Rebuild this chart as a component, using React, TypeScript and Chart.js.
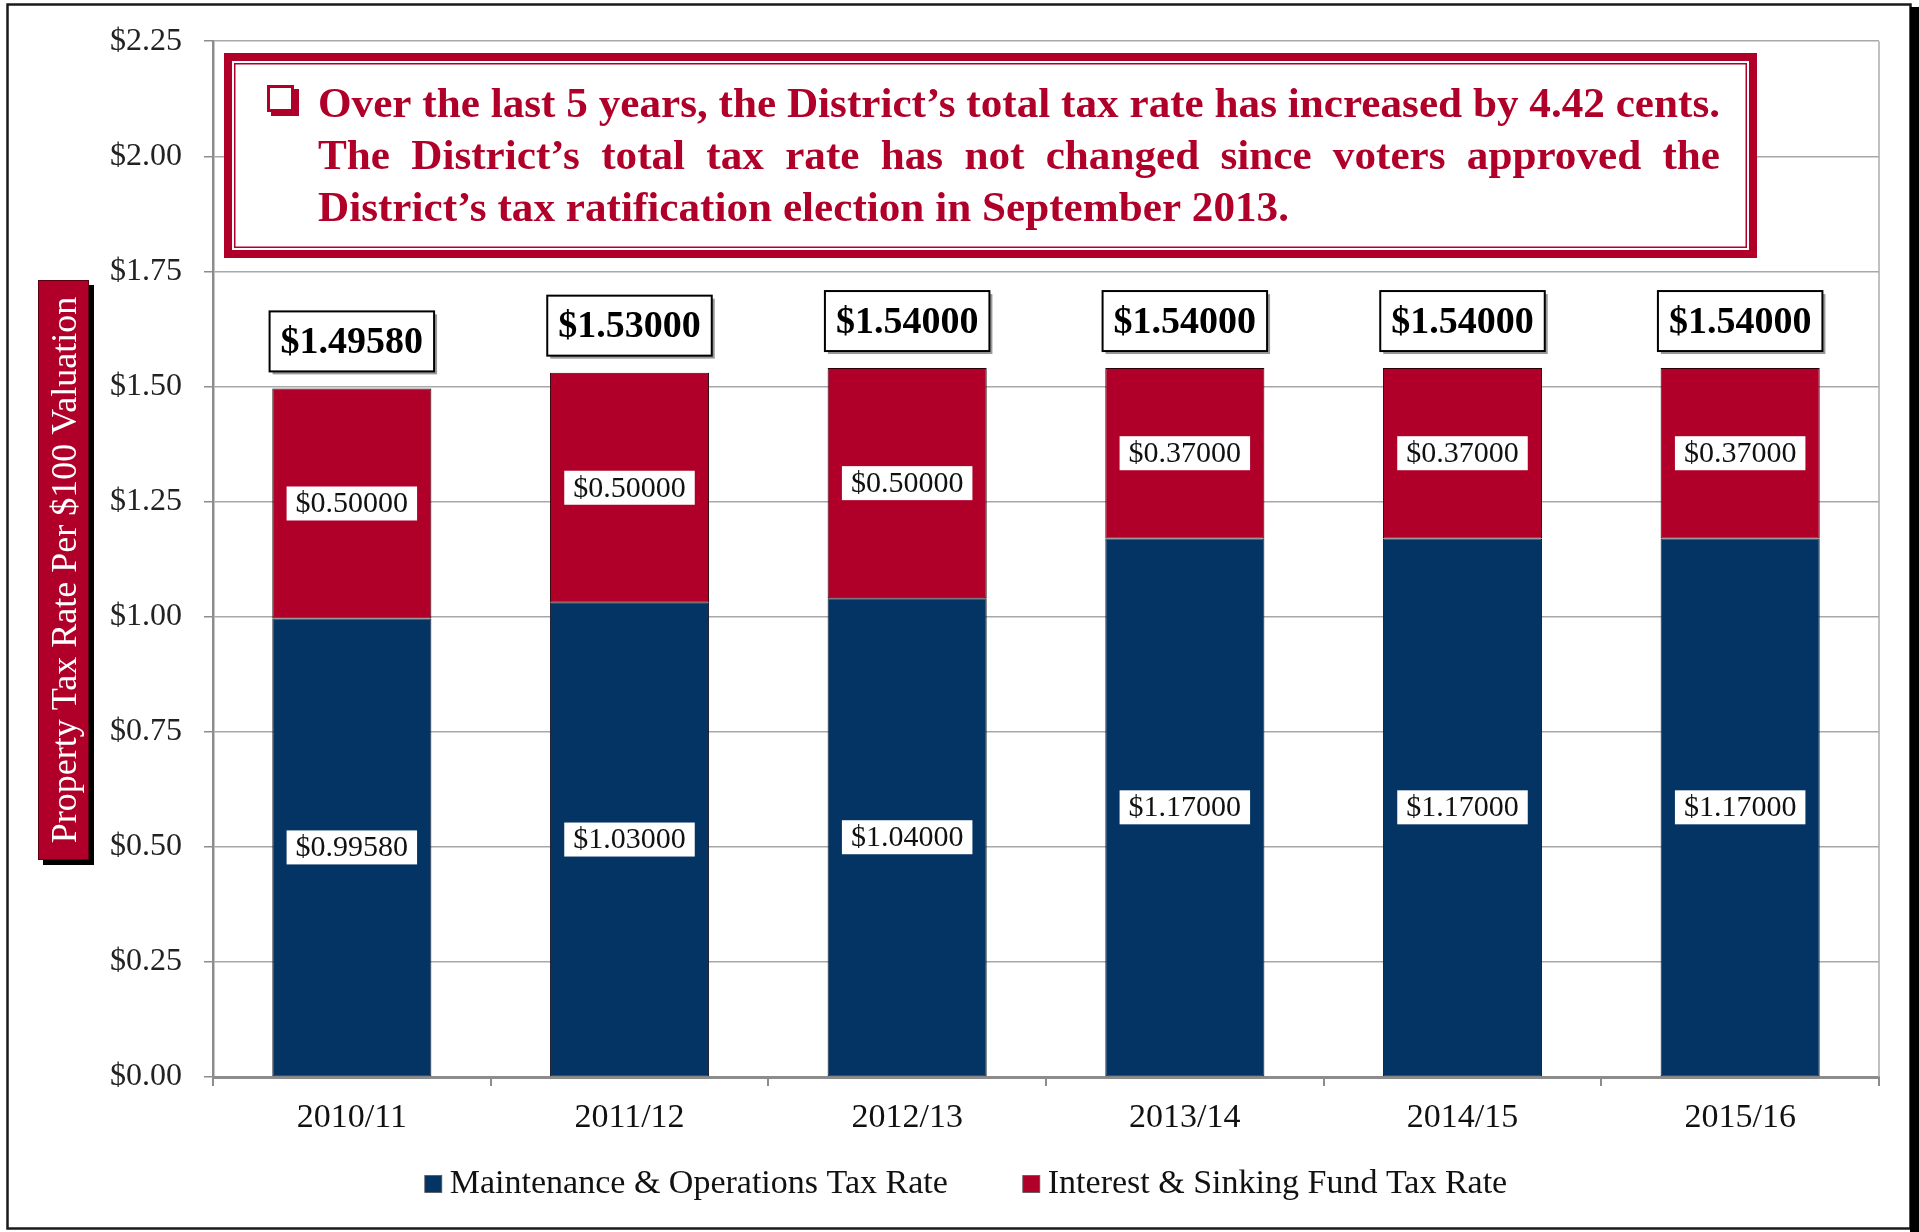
import React, { useEffect, useRef } from 'react';
import { Chart, registerables } from 'chart.js';

Chart.register(...registerables);

// ---------- data ----------
const categories = ['2010/11', '2011/12', '2012/13', '2013/14', '2014/15', '2015/16'];
const maintenanceRates = [0.9958, 1.03, 1.04, 1.17, 1.17, 1.17];
const sinkingRates = [0.5, 0.5, 0.5, 0.37, 0.37, 0.37];
const seriesLabels = ['Maintenance & Operations Tax Rate', 'Interest & Sinking Fund Tax Rate'];
const yMin = 0;
const yMax = 2.25;
const yStep = 0.25;
const yAxisTitle = 'Property Tax Rate Per $100 Valuation';
const annotationLines = [
  'Over the last 5 years, the District\u2019s total tax rate has increased by 4.42 cents.',
  'The District\u2019s total tax rate has not changed since voters approved the',
  'District\u2019s tax ratification election in September 2013.',
];

// ---------- styles ----------
const BLUE = '#033463';
const RED = '#B00029';
const SERIF = '"Liberation Serif", "Times New Roman", serif';
const W = 1919;
const H = 1232;

const money = (v: number, d: number) => '$' + v.toFixed(d);

const decorPlugin = {
  id: 'decor',
  beforeDraw(chart: any) {
    const ctx = chart.ctx;
    ctx.save();
    ctx.fillStyle = '#ffffff';
    ctx.fillRect(0, 0, chart.width, chart.height);
    ctx.restore();
  },
  afterDatasetsDraw(chart: any) {
    const ctx = chart.ctx;
    ctx.save();
    // segment labels
    ctx.font = `30px ${SERIF}`;
    ctx.textAlign = 'center';
    ctx.textBaseline = 'middle';
    chart.data.datasets.forEach((ds: any, di: number) => {
      const meta = chart.getDatasetMeta(di);
      meta.data.forEach((bar: any, i: number) => {
        const v = ds.data[i];
        const txt = money(v, 5);
        const cy = (bar.y + bar.base) / 2;
        const tw = ctx.measureText(txt).width;
        const bw = tw + 18;
        const bh = 34;
        ctx.fillStyle = '#ffffff';
        ctx.fillRect(bar.x - bw / 2, cy - bh / 2, bw, bh);
        ctx.fillStyle = '#111111';
        ctx.fillText(txt, bar.x, cy + 1);
      });
    });
    // totals
    const last = chart.getDatasetMeta(chart.data.datasets.length - 1);
    ctx.font = `bold 38px ${SERIF}`;
    last.data.forEach((bar: any, i: number) => {
      let total = 0;
      chart.data.datasets.forEach((ds: any) => (total += ds.data[i]));
      const txt = money(total, 5);
      const tw = ctx.measureText(txt).width;
      const bw = tw + 22;
      const bh = 60;
      const bottom = bar.y - 17;
      const x0 = bar.x - bw / 2;
      const y0 = bottom - bh;
      ctx.fillStyle = '#9a9a9a';
      ctx.fillRect(x0 + 3, y0 + 3, bw, bh);
      ctx.fillStyle = '#ffffff';
      ctx.fillRect(x0, y0, bw, bh);
      ctx.strokeStyle = '#000000';
      ctx.lineWidth = 2;
      ctx.strokeRect(x0, y0, bw, bh);
      ctx.fillStyle = '#000000';
      ctx.fillText(txt, bar.x, y0 + bh / 2 + 2);
    });
    ctx.restore();
  },
  afterDraw(chart: any) {
    const ctx = chart.ctx;
    const area = chart.chartArea;
    ctx.save();

    // plot right border
    ctx.strokeStyle = '#ababab';
    ctx.lineWidth = 1.5;
    ctx.beginPath();
    ctx.moveTo(area.right, area.top);
    ctx.lineTo(area.right, area.bottom);
    ctx.stroke();

    // annotation box
    const bx = 224, by = 53, bw = 1533, bh = 205;
    ctx.fillStyle = RED;
    ctx.fillRect(bx, by, bw, bh);
    ctx.fillStyle = '#ffffff';
    ctx.fillRect(bx + 8, by + 8, bw - 16, bh - 16);
    ctx.strokeStyle = RED;
    ctx.lineWidth = 1.5;
    ctx.strokeRect(bx + 10.75, by + 10.75, bw - 21.5, bh - 21.5);

    // checkbox glyph
    ctx.fillStyle = RED;
    ctx.fillRect(271, 89, 28, 27);
    ctx.fillRect(267, 85, 27, 27);
    ctx.fillStyle = '#ffffff';
    ctx.fillRect(270, 88, 21, 21);

    // annotation text
    ctx.fillStyle = RED;
    ctx.font = `bold 43px ${SERIF}`;
    ctx.textAlign = 'left';
    ctx.textBaseline = 'alphabetic';
    const tx = 318;
    const tWidth = 1402;
    const sx = tWidth / ctx.measureText(annotationLines[0]).width;
    const baselines = [117, 169, 221];
    annotationLines.forEach((line, li) => {
      ctx.save();
      ctx.translate(tx, baselines[li]);
      ctx.scale(sx, 1);
      if (li === 1) {
        const words = line.split(' ');
        const wordsW = words.reduce((s, w) => s + ctx.measureText(w).width, 0);
        const gap = (tWidth / sx - wordsW) / (words.length - 1);
        let x = 0;
        words.forEach((w) => {
          ctx.fillText(w, x, 0);
          x += ctx.measureText(w).width + gap;
        });
      } else {
        ctx.fillText(line, 0, 0);
      }
      ctx.restore();
    });

    // y axis title box
    ctx.fillStyle = '#000000';
    ctx.fillRect(43, 285, 51, 580);
    ctx.fillStyle = RED;
    ctx.fillRect(38, 280, 51, 580);
    ctx.strokeStyle = '#5a0010';
    ctx.lineWidth = 1;
    ctx.strokeRect(38.5, 280.5, 50, 579);
    ctx.save();
    ctx.translate(65, 570);
    ctx.rotate(-Math.PI / 2);
    ctx.fillStyle = '#ffffff';
    ctx.font = `36px ${SERIF}`;
    ctx.textAlign = 'center';
    ctx.textBaseline = 'middle';
    ctx.fillText(yAxisTitle, 0, 2);
    ctx.restore();

    // legend
    ctx.font = `34px ${SERIF}`;
    ctx.textAlign = 'left';
    ctx.textBaseline = 'middle';
    const sq = 17, sqGap = 8, itemGap = 75;
    const items = chart.data.datasets.map((ds: any) => ({
      label: ds.label,
      color: ds.backgroundColor,
      w: ctx.measureText(ds.label).width,
    }));
    const totalW = items.reduce((s: number, it: any) => s + sq + sqGap + it.w, 0) + itemGap * (items.length - 1);
    let lx = 966 - totalW / 2;
    const ly = 1184;
    items.forEach((it: any) => {
      ctx.fillStyle = it.color;
      ctx.fillRect(lx, ly - sq / 2, sq, sq);
      ctx.strokeStyle = '#555555';
      ctx.lineWidth = 0.8;
      ctx.strokeRect(lx, ly - sq / 2, sq, sq);
      ctx.fillStyle = '#111111';
      ctx.fillText(it.label, lx + sq + sqGap, ly);
      lx += sq + sqGap + it.w + itemGap;
    });

    // outer frame
    ctx.strokeStyle = '#1a1a1a';
    ctx.lineWidth = 2.5;
    ctx.strokeRect(7.5, 4.5, 1903, 1224);
    ctx.fillStyle = '#000000';
    ctx.fillRect(1910, 7, 9, 1225);

    ctx.restore();
  },
};

export default function App() {
  const canvasRef = useRef<HTMLCanvasElement | null>(null);

  useEffect(() => {
    document.body.style.margin = '0';
    document.body.style.overflow = 'hidden';
    const canvas = canvasRef.current;
    if (!canvas) return;
    const chart = new Chart(canvas, {
      type: 'bar',
      data: {
        labels: categories,
        datasets: [
          {
            label: seriesLabels[0],
            data: maintenanceRates,
            backgroundColor: BLUE,
            borderColor: '#1a1a2a',
            borderWidth: 1,
            borderSkipped: false,
            barPercentage: 0.573,
            categoryPercentage: 1,
          },
          {
            label: seriesLabels[1],
            data: sinkingRates,
            backgroundColor: RED,
            borderColor: '#2a0008',
            borderWidth: 1,
            borderSkipped: false,
            barPercentage: 0.573,
            categoryPercentage: 1,
          },
        ],
      },
      options: {
        responsive: false,
        animation: false,
        devicePixelRatio: 1,
        layout: { padding: { left: 95, right: 40, top: 39, bottom: 85 } },
        plugins: {
          legend: { display: false },
          tooltip: { enabled: false },
          title: { display: false },
        },
        scales: {
          x: {
            stacked: true,
            grid: {
              offset: true,
              drawOnChartArea: false,
              drawTicks: true,
              tickLength: 9,
              color: '#8c8c8c',
              lineWidth: 2,
            },
            border: { display: true, color: '#8c8c8c', width: 3 },
            ticks: {
              color: '#111111',
              font: { family: SERIF, size: 34 },
              padding: 12,
              maxRotation: 0,
            },
            afterFit: (scale: any) => {
              scale.height = 70;
            },
          },
          y: {
            stacked: true,
            min: yMin,
            max: yMax,
            grid: {
              color: '#a8a8a8',
              lineWidth: 1.5,
              drawTicks: true,
              tickLength: 9,
              tickColor: '#8c8c8c',
            },
            border: { display: true, color: '#8c8c8c', width: 2.5 },
            ticks: {
              stepSize: yStep,
              color: '#222222',
              font: { family: SERIF, size: 32 },
              padding: 22,
              callback: (v: any) => money(Number(v), 2),
            },
            afterFit: (scale: any) => {
              scale.width = 118;
            },
          },
        },
      },
      plugins: [decorPlugin],
    });
    return () => chart.destroy();
  }, []);

  return (
    <div style={{ width: W, height: H, overflow: 'hidden', background: '#fff' }}>
      <canvas ref={canvasRef} width={W} height={H} style={{ display: 'block', width: W, height: H }} />
    </div>
  );
}
